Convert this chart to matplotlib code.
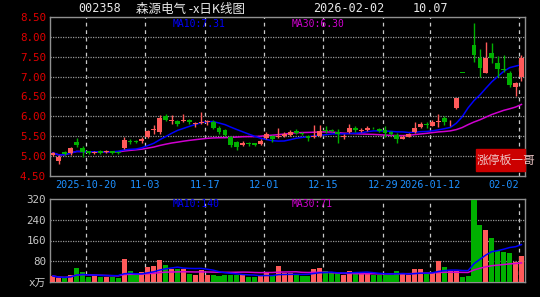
import matplotlib
matplotlib.use("Agg")
import matplotlib.pyplot as plt
from matplotlib.patches import Rectangle
import numpy as np
import pandas as pd

plt.rcParams["font.family"] = ["DejaVu Sans Mono", "Noto Sans CJK SC"]

# trading days 2025-10-10 .. 2026-02-02 (new year holiday removed)
dates = [d for d in pd.bdate_range("2025-10-10", "2026-02-02")
         if d.strftime("%Y-%m-%d") not in ("2026-01-01", "2026-01-02")]

opens = [5.03, 4.88, 5.10, 5.07, 5.35, 5.20, 5.12, 5.08, 5.12, 5.10,
         5.12, 5.10, 5.20, 5.38, 5.39, 5.37, 5.47, 5.65, 5.60, 6.00,
         5.88, 5.88, 5.88, 5.92, 5.80, 5.83, 5.85, 5.85, 5.72, 5.65,
         5.47, 5.35, 5.27, 5.33, 5.32, 5.30, 5.45, 5.50, 5.48, 5.50,
         5.52, 5.62, 5.57, 5.50, 5.47, 5.50, 5.65, 5.66, 5.60, 5.47,
         5.60, 5.72, 5.63, 5.65, 5.72, 5.68, 5.65, 5.60, 5.52, 5.43,
         5.48, 5.60, 5.73, 5.80, 5.77, 5.85, 5.95, 5.85, 6.20, 7.10,
         7.81, 7.80, 7.47, 7.10, 7.60, 7.35, 7.20, 7.10, 6.75, 6.98]
closes = [5.08, 4.98, 5.05, 5.20, 5.28, 5.10, 5.08, 5.11, 5.09, 5.13,
          5.09, 5.08, 5.40, 5.35, 5.36, 5.42, 5.63, 5.68, 5.97, 5.92,
          5.92, 5.82, 5.90, 5.87, 5.83, 5.87, 5.88, 5.72, 5.60, 5.52,
          5.28, 5.22, 5.33, 5.30, 5.28, 5.38, 5.55, 5.42, 5.50, 5.55,
          5.60, 5.57, 5.55, 5.45, 5.50, 5.62, 5.62, 5.62, 5.55, 5.50,
          5.70, 5.65, 5.66, 5.72, 5.70, 5.63, 5.58, 5.55, 5.42, 5.48,
          5.55, 5.72, 5.80, 5.78, 5.85, 5.88, 5.87, 5.87, 6.46, 7.10,
          7.81, 7.55, 7.22, 7.47, 7.47, 7.20, 7.17, 6.80, 6.85, 7.48]
highs = [5.10, 5.02, 5.12, 5.22, 5.45, 5.25, 5.14, 5.13, 5.15, 5.15,
         5.14, 5.12, 5.48, 5.42, 5.40, 5.48, 5.66, 5.78, 6.03, 6.05,
         6.03, 5.90, 6.07, 5.93, 5.85, 6.10, 5.92, 5.90, 5.75, 5.68,
         5.50, 5.38, 5.38, 5.35, 5.34, 5.42, 5.60, 5.52, 5.70, 5.60,
         5.65, 5.67, 5.60, 5.52, 5.78, 5.78, 5.77, 5.68, 5.67, 5.55,
         5.80, 5.75, 5.70, 5.75, 5.74, 5.70, 5.77, 5.62, 5.57, 5.52,
         5.57, 5.85, 5.85, 5.87, 5.90, 6.05, 6.00, 5.90, 6.46, 7.10,
         7.81, 8.36, 7.70, 7.88, 7.85, 7.52, 7.55, 7.15, 6.87, 7.55]
lows = [5.01, 4.80, 5.03, 5.03, 5.22, 4.98, 5.05, 5.06, 5.05, 5.08,
        5.06, 5.05, 5.18, 5.30, 5.33, 5.32, 5.45, 5.55, 5.55, 5.88,
        5.82, 5.75, 5.87, 5.80, 5.73, 5.80, 5.78, 5.68, 5.55, 5.50,
        5.22, 5.15, 5.25, 5.26, 5.25, 5.27, 5.42, 5.35, 5.45, 5.48,
        5.50, 5.55, 5.52, 5.38, 5.45, 5.47, 5.58, 5.60, 5.33, 5.42,
        5.57, 5.60, 5.60, 5.63, 5.68, 5.60, 5.47, 5.52, 5.32, 5.42,
        5.47, 5.57, 5.72, 5.72, 5.75, 5.73, 5.78, 5.77, 6.18, 7.10,
        7.81, 7.36, 6.98, 7.08, 7.35, 6.98, 7.12, 6.75, 6.52, 6.90]
volumes = [23, 15, 15, 27, 53, 40, 18, 23, 18, 18,
           18, 15, 89, 42, 33, 40, 59, 62, 85, 64,
           51, 49, 51, 31, 27, 46, 27, 27, 23, 27,
           27, 27, 27, 18, 18, 23, 33, 23, 61, 33,
           33, 27, 23, 23, 49, 53, 42, 35, 35, 27,
           42, 33, 33, 33, 27, 27, 27, 27, 42, 33,
           27, 49, 49, 33, 40, 80, 59, 44, 44, 18,
           23, 315, 218, 199, 170, 118, 114, 110, 76, 99]

tick_dates = ["2025-10-20", "2025-11-03", "2025-11-17", "2025-12-01",
              "2025-12-15", "2025-12-29", "2026-01-12", "2026-02-02"]
tick_labels = ["2025-10-20", "11-03", "11-17", "12-01",
               "12-15", "12-29", "2026-01-12", "02-02"]

UP = "#ff5a5a"
DOWN = "#00b000"
MA10_C = "#0000ff"
MA30_C = "#d000d0"
GRID = "#969696"

x = np.arange(len(dates))
o, c, h, l = map(np.array, (opens, closes, highs, lows))
up = c > o
colors = np.where(up, UP, DOWN)
ma10 = pd.Series(closes).rolling(10, min_periods=1).mean()
ma30 = pd.Series(closes).rolling(30, min_periods=1).mean()
vma10 = pd.Series(volumes).rolling(10, min_periods=1).mean()
vma30 = pd.Series(volumes).rolling(30, min_periods=1).mean()

date_str = [d.strftime("%Y-%m-%d") for d in dates]
tick_pos = [date_str.index(d) - 0.4 for d in tick_dates]

W, H = 540, 297
fig = plt.figure(figsize=(W / 100, H / 100), dpi=100, facecolor="black")


def fx(px):
    return px / W


def fy(py):
    return 1 - py / H


ax = fig.add_axes([fx(50), fy(176), fx(525) - fx(50), fy(17) - fy(176)])
axv = fig.add_axes([fx(50), fy(282), fx(525) - fx(50), fy(199) - fy(282)])

for a in (ax, axv):
    a.set_facecolor("black")
    for s in a.spines.values():
        s.set_color("#909090")
        s.set_linewidth(1)
    a.set_xlim(-0.5, 79.6)
    for p in tick_pos:
        a.axvline(p, color="#c8c8c8", lw=0.9, ls=(0, (3, 3)), zorder=1)
    a.tick_params(length=0, pad=3)

# price panel
ax.set_ylim(4.5, 8.5)
yt = np.arange(4.5, 8.51, 0.5)
ax.set_yticks(yt)
ax.set_yticklabels([f"{v:.2f}" for v in yt], color="#e00000", fontsize=7.8)
for v in yt[1:-1]:
    ax.axhline(v, color=GRID, lw=0.9, ls=(0, (1, 1)), zorder=1)
ax.plot(x, ma30, color=MA30_C, lw=1.1, zorder=2)
ax.plot(x, ma10, color=MA10_C, lw=1.1, zorder=2)
ax.vlines(x, l, h, colors=colors, lw=1, zorder=3)
body = np.maximum(np.abs(c - o), 0.012)
ax.bar(x, body, bottom=np.minimum(o, c), width=0.82, color=colors, zorder=4)
ax.set_xticks(tick_pos)
ax.set_xticklabels(tick_labels, color="#1e90ff", fontsize=7.3)
ax.get_xticklabels()[-1].set_ha("right")

# volume panel
axv.set_ylim(0, 320)
vt = [0, 80, 160, 240, 320]
axv.set_yticks(vt)
axv.set_yticklabels(["x万", "80", "160", "240", "320"], color="#c8c8c8", fontsize=7.8)
for v in vt[1:-1]:
    axv.axhline(v, color=GRID, lw=0.9, ls=(0, (1, 1)), zorder=1)
axv.bar(x, volumes, width=0.85, color=colors, zorder=3)
axv.plot(x, vma30, color=MA30_C, lw=1.1, zorder=4)
axv.plot(x, vma10, color=MA10_C, lw=1.1, zorder=4)
axv.set_xticks([])

# header texts
fig.text(fx(100), fy(9), "002358", color="#e8e8e8", fontsize=8.5, ha="center", va="center")
fig.text(fx(136), fy(9), "森源电气 -x日K线图", color="#e8e8e8", fontsize=9,
         ha="left", va="center", family=["Noto Sans CJK SC", "DejaVu Sans"])
fig.text(fx(349), fy(9), "2026-02-02", color="#e8e8e8", fontsize=8.5, ha="center", va="center")
fig.text(fx(430), fy(9), "10.07", color="#e8e8e8", fontsize=8.5, ha="center", va="center")
fig.text(fx(173), fy(24), "MA10:7.31", color=MA10_C, fontsize=7, ha="left", va="center")
fig.text(fx(292), fy(24), "MA30:6.30", color=MA30_C, fontsize=7, ha="left", va="center")
fig.text(fx(173), fy(204), "MA10:140", color=MA10_C, fontsize=7, ha="left", va="center")
fig.text(fx(292), fy(204), "MA30:71", color=MA30_C, fontsize=7, ha="left", va="center")

fig.patches.append(Rectangle((fx(476), fy(171)), fx(525) - fx(476), fy(149) - fy(171),
                             transform=fig.transFigure, color="#cc0000", zorder=5))
fig.text(fx(477), fy(160), "涨停板一哥", color="#f0c8c8", fontsize=8.5, ha="left",
         va="center", family=["Noto Sans CJK SC", "DejaVu Sans"], zorder=6)

fig.savefig("out.png", dpi=100, facecolor="black")
